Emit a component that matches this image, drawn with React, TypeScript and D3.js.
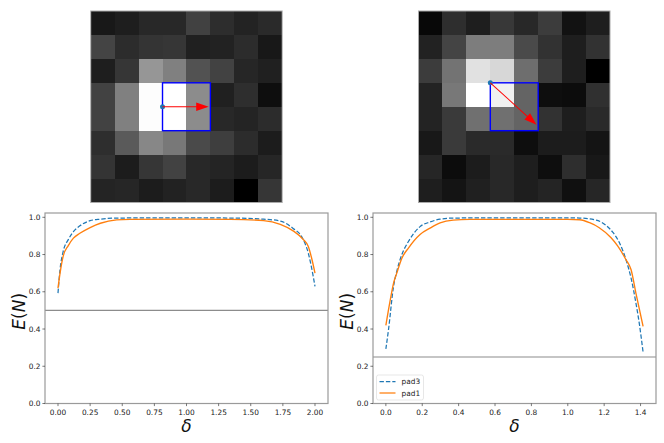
import { curveMonotoneX, line, range, scaleBand, scaleLinear } from "d3";

const FONT = "'DejaVu Sans', sans-serif";
const SPINE = "#9a9a9a";
const TEXT = "#222";

const patchA = [
  [24, 30, 40, 40, 65, 45, 35, 42],
  [68, 44, 52, 54, 32, 34, 44, 24],
  [30, 54, 150, 128, 82, 66, 38, 32],
  [66, 128, 253, 255, 140, 32, 46, 14],
  [66, 128, 253, 255, 140, 40, 36, 44],
  [46, 90, 135, 120, 74, 62, 44, 28],
  [52, 28, 54, 66, 40, 36, 28, 38],
  [36, 38, 28, 34, 40, 28, 0, 54],
];
const patchB = [
  [8, 46, 30, 56, 40, 60, 18, 30],
  [34, 68, 125, 125, 74, 50, 30, 50],
  [60, 115, 225, 215, 110, 60, 30, 0],
  [35, 120, 255, 240, 100, 14, 12, 48],
  [35, 58, 112, 112, 100, 50, 30, 42],
  [24, 58, 42, 42, 14, 28, 28, 20],
  [38, 12, 28, 40, 30, 14, 46, 24],
  [30, 20, 32, 40, 30, 36, 16, 38],
];

// left plot curves
const deltaA3 = [0, 0.016, 0.04, 0.08, 0.12, 0.17, 0.25, 0.33, 0.456, 1.0, 1.34, 1.6, 1.73, 1.83, 1.896, 1.948, 1.974, 2.0];
const pad3A = [0.593, 0.72, 0.816, 0.88, 0.923, 0.954, 0.982, 0.99, 0.996, 0.997, 0.996, 0.99, 0.98, 0.94, 0.896, 0.807, 0.727, 0.629];
const deltaA1 = [0, 0.016, 0.04, 0.08, 0.12, 0.17, 0.25, 0.33, 0.456, 0.56, 1.0, 1.34, 1.6, 1.73, 1.83, 1.91, 1.948, 1.974, 2.0];
const pad1A = [0.62, 0.7, 0.79, 0.848, 0.888, 0.914, 0.945, 0.968, 0.986, 0.989, 0.99, 0.989, 0.982, 0.962, 0.927, 0.88, 0.843, 0.78, 0.7];

// right plot curves
const deltaB3 = [0, 0.015, 0.042, 0.06, 0.088, 0.124, 0.188, 0.243, 0.298, 0.37, 0.7, 1.0, 1.065, 1.156, 1.21, 1.247, 1.284, 1.32, 1.348, 1.375, 1.393, 1.414];
const pad3B = [0.293, 0.4, 0.628, 0.71, 0.8, 0.87, 0.95, 0.975, 0.99, 0.996, 0.997, 0.997, 0.996, 0.985, 0.957, 0.92, 0.863, 0.772, 0.673, 0.537, 0.43, 0.275];
const deltaB1 = [0, 0.024, 0.042, 0.06, 0.088, 0.124, 0.188, 0.243, 0.298, 0.37, 0.46, 0.7, 1.0, 1.065, 1.12, 1.173, 1.238, 1.275, 1.32, 1.348, 1.375, 1.414];
const pad1B = [0.42, 0.555, 0.645, 0.7, 0.78, 0.835, 0.908, 0.942, 0.97, 0.985, 0.989, 0.989, 0.989, 0.987, 0.971, 0.944, 0.89, 0.845, 0.772, 0.718, 0.59, 0.414];

const yTicks = [0, 0.2, 0.4, 0.6, 0.8, 1.0];
const xTicksA = [0, 0.25, 0.5, 0.75, 1.0, 1.25, 1.5, 1.75, 2.0];
const xTicksB = [0, 0.2, 0.4, 0.6, 0.8, 1.0, 1.2, 1.4];
const legendNames = ["pad3", "pad1"];

// shift vectors in cell units: [start col, start row, end col, end row]
const arrowA = [3, 4, 4.93, 4];
const arrowB = [3, 3, 4.93, 4.75];
const boxCorner = [3, 3];

function Patch({ cells, left, arrow }: { cells: number[][]; left: number; arrow: number[] }) {
  const size = 191.5;
  const top = 11;
  const band = scaleBand<number>().domain(range(8)).range([0, size]);
  const pos = scaleLinear().domain([0, 8]).range([0, size]);
  const x1 = pos(arrow[0]);
  const y1 = pos(arrow[1]);
  const x2 = pos(arrow[2]);
  const y2 = pos(arrow[3]);
  const angle = (Math.atan2(y2 - y1, x2 - x1) * 180) / Math.PI;
  const len = Math.hypot(x2 - x1, y2 - y1);
  return (
    <g transform={`translate(${left},${top})`}>
      <g shapeRendering="crispEdges">
        {cells.map((row, r) =>
          row.map((v, c) => (
            <rect key={`${r}-${c}`} x={band(c)} y={band(r)} width={band.bandwidth()} height={band.bandwidth()} fill={`rgb(${v},${v},${v})`} />
          ))
        )}
      </g>
      <rect x={0} y={0} width={size} height={size} fill="none" stroke="#aaa" strokeWidth={1} />
      <rect x={pos(boxCorner[0])} y={pos(boxCorner[1])} width={pos(2)} height={pos(2)} fill="none" stroke="#0000ff" strokeWidth={1.4} />
      <circle cx={x1} cy={y1} r={2.5} fill="#1f77b4" />
      <g transform={`translate(${x1},${y1}) rotate(${angle})`}>
        <line x1={0} x2={len - 11} y1={0} y2={0} stroke="#ff0000" strokeWidth={1} />
        <path d={`M${len},0L${len - 12.5},-4.2L${len - 12.5},4.2Z`} fill="#ff0000" />
      </g>
    </g>
  );
}

type PlotProps = {
  left: number;
  domain: number[];
  xTicks: number[];
  xFormat: (v: number) => string;
  curve3: [number[], number[]];
  curve1: [number[], number[]];
  level: number;
  showLegend: boolean;
};

function Plot({ left, domain, xTicks, xFormat, curve3, curve1, level, showLegend }: PlotProps) {
  const w = 283;
  const top = 213;
  const bottom = 403.5;
  const x = scaleLinear().domain(domain).range([left, left + w]);
  const y = scaleLinear().domain([0, 1]).range([bottom, 217.3]);

  const draw = ([xs, ys]: [number[], number[]]) =>
    line<number>()
      .x((d) => x(d))
      .y((_, i) => y(ys[i]))
      .curve(curveMonotoneX)(xs) as string;

  return (
    <g fontFamily={FONT} fill={TEXT}>
      <line x1={left} x2={left + w} y1={y(level)} y2={y(level)} stroke="#8c8c8c" strokeWidth={1.1} />
      <path d={draw(curve3)} fill="none" stroke="#1f77b4" strokeWidth={1.25} strokeDasharray="4.4,2" />
      <path d={draw(curve1)} fill="none" stroke="#ff7f0e" strokeWidth={1.35} />
      <rect x={left} y={top} width={w} height={bottom - top} fill="none" stroke={SPINE} strokeWidth={1.2} />
      {yTicks.map((t) => (
        <g key={t}>
          <line x1={left - 2.6} x2={left} y1={y(t)} y2={y(t)} stroke={TEXT} strokeWidth={0.6} />
          <text x={left - 4.5} y={y(t) + 2.6} fontSize={7.4} textAnchor="end">
            {t.toFixed(1)}
          </text>
        </g>
      ))}
      {xTicks.map((t) => (
        <g key={t}>
          <line x1={x(t)} x2={x(t)} y1={bottom} y2={bottom + 2.6} stroke={TEXT} strokeWidth={0.6} />
          <text x={x(t)} y={bottom + 11.5} fontSize={7.4} textAnchor="middle">
            {xFormat(t)}
          </text>
        </g>
      ))}
      <text x={left + w / 2} y={432} fontSize={17} fontStyle="italic" textAnchor="middle" fill="#111">
        δ
      </text>
      <text
        transform={`translate(${left - 20.5},${(top + bottom) / 2 + 3}) rotate(-90)`}
        fontSize={17}
        textAnchor="middle"
        fill="#111"
      >
        <tspan fontStyle="italic">E</tspan>(<tspan fontStyle="italic">N</tspan>)
      </text>
      {showLegend && (
        <g transform={`translate(${left + 3.5},375)`}>
          <rect width={47} height={25} rx={2} fill="#fff" stroke="#ddd" strokeWidth={0.7} />
          {legendNames.map((name, i) => (
            <g key={name} transform={`translate(0,${6.5 + i * 11.5})`}>
              <line
                x1={3}
                x2={19}
                y1={0}
                y2={0}
                stroke={i === 0 ? "#1f77b4" : "#ff7f0e"}
                strokeWidth={1.25}
                strokeDasharray={i === 0 ? "4.4,2" : undefined}
              />
              <text x={25} y={2.6} fontSize={7.4}>
                {name}
              </text>
            </g>
          ))}
        </g>
      )}
    </g>
  );
}

export default function App() {
  return (
    <svg width={664} height={443} style={{ position: "absolute", left: 0, top: 0, background: "#fff" }}>
      <Patch cells={patchA} left={90.7} arrow={arrowA} />
      <Patch cells={patchB} left={418.5} arrow={arrowB} />
      <Plot
        left={45}
        domain={[-0.1012, 2.1012]}
        xTicks={xTicksA}
        xFormat={(v) => v.toFixed(2)}
        curve3={[deltaA3, pad3A]}
        curve1={[deltaA1, pad1A]}
        level={0.5}
        showLegend={false}
      />
      <Plot
        left={373}
        domain={[-0.0707, 1.4849]}
        xTicks={xTicksB}
        xFormat={(v) => v.toFixed(1)}
        curve3={[deltaB3, pad3B]}
        curve1={[deltaB1, pad1B]}
        level={0.25}
        showLegend={true}
      />
    </svg>
  );
}
